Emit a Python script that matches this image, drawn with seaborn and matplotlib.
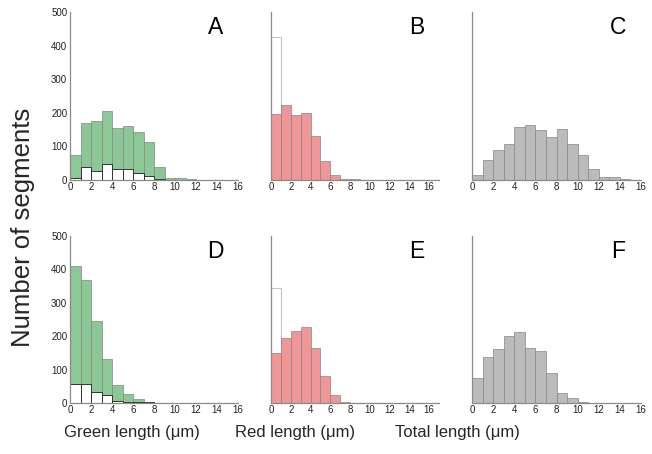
import numpy as np
import matplotlib
matplotlib.use("Agg")
import matplotlib.pyplot as plt
import seaborn as sns

sns.set_style("white")
plt.rcParams['font.family'] = ['Liberation Sans', 'DejaVu Sans']

bin_edges = list(range(0, 17))
bin_centers = [e + 0.5 for e in range(0, 16)]

# Panel A (green length, condition 1)
green_A = [74, 170, 176, 205, 155, 161, 142, 114, 38, 7, 7, 2, 0, 0, 0, 0]
green_A_white = [7, 38, 26, 48, 32, 32, 20, 12, 2, 0, 0, 0, 0, 0, 0, 0]
# Panel B (red length, condition 1)
red_B = [196, 222, 192, 199, 131, 58, 15, 3, 3, 0, 0, 0, 0, 0, 0, 0]
red_B_white = [425, 0, 0, 0, 0, 0, 0, 0, 0, 0, 0, 0, 0, 0, 0, 0]
# Panel C (total length, condition 1)
total_C = [16, 59, 89, 108, 158, 165, 149, 129, 151, 107, 73, 33, 9, 9, 2, 0]
# Panel D (green length, condition 2)
green_D = [410, 368, 245, 132, 55, 28, 12, 3, 0, 0, 0, 0, 0, 0, 0, 0]
green_D_white = [57, 56, 33, 24, 5, 4, 4, 2, 0, 0, 0, 0, 0, 0, 0, 0]
# Panel E (red length, condition 2)
red_E = [150, 195, 216, 228, 166, 82, 24, 2, 0, 0, 0, 0, 0, 0, 0, 0]
red_E_white = [343, 0, 0, 0, 0, 0, 0, 0, 0, 0, 0, 0, 0, 0, 0, 0]
# Panel F (total length, condition 2)
total_F = [74, 139, 162, 201, 213, 165, 156, 91, 31, 15, 2, 0, 0, 0, 0, 0]

panel_letters = ["A", "B", "C", "D", "E", "F"]
y_ticks = [0, 100, 200, 300, 400, 500]
x_ticks = [0, 2, 4, 6, 8, 10, 12, 14, 16]
x_labels = ["Green length (\u03bcm)", "Red length (\u03bcm)", "Total length (\u03bcm)"]
y_label = "Number of segments"

GREEN = "#8cc896"
RED = "#f09696"
GRAY = "#bbbbbb"
EDGE = "#858585"
SPINE = "#8a8a8a"

W, H = 652, 454
fig = plt.figure(figsize=(W / 100, H / 100), dpi=100)

col_left = [70, 271, 472]
col_width = [168, 168, 169]
col_xmax = [16, 17, 16]
row_bottom = [180, 403]
row_height = [168, 167]

panels = [
    [(green_A, GREEN, green_A_white, "over"), (red_B, RED, red_B_white, "under"), (total_C, GRAY, None, None)],
    [(green_D, GREEN, green_D_white, "over"), (red_E, RED, red_E_white, "under"), (total_F, GRAY, None, None)],
]

k = 0
for r in range(2):
    for c in range(3):
        vals, col, white, mode = panels[r][c]
        ax = fig.add_axes([col_left[c] / W, 1 - row_bottom[r] / H,
                           col_width[c] / W, row_height[r] / H])
        if white is not None and mode == "under":
            sns.histplot(x=bin_centers, weights=white, bins=bin_edges, color="white",
                         alpha=1, edgecolor="#c4c4c4", linewidth=0.8, ax=ax)
        sns.histplot(x=bin_centers, weights=vals, bins=bin_edges, color=col,
                     alpha=1, edgecolor=EDGE, linewidth=0.5, ax=ax)
        if white is not None and mode == "over":
            sns.histplot(x=bin_centers, weights=white, bins=bin_edges, color="white",
                         alpha=1, edgecolor="#333333", linewidth=0.7, ax=ax)
        ax.set_xlim(0, col_xmax[c])
        ax.set_ylim(0, 500)
        ax.set_xlabel("")
        ax.set_ylabel("")
        for s in ["top", "right"]:
            ax.spines[s].set_visible(False)
        for s in ["left", "bottom"]:
            ax.spines[s].set_color(SPINE)
            ax.spines[s].set_linewidth(0.9)
        ax.set_xticks(x_ticks)
        ax.set_xticks(list(range(1, 16, 2)), minor=True)
        ax.tick_params(axis="x", which="both", direction="in", length=3, width=0.7,
                       color=SPINE, labelsize=7, pad=1.5, labelcolor="#222222")
        if c == 0:
            ax.set_yticks(y_ticks)
            ax.tick_params(axis="y", direction="in", length=0, labelsize=7,
                           pad=2, labelcolor="#222222")
        else:
            ax.set_yticks([])
        ax.text(0.865, 0.91, panel_letters[k], transform=ax.transAxes, ha="center",
                va="center", fontsize=16.5, color="black")
        ax.patch.set_alpha(0)
        k += 1

fig.text(23 / W, 1 - 227 / H, y_label, rotation=90, ha="center", va="center", fontsize=18.5)
for xc, lab in zip([132, 295, 457], x_labels):
    fig.text(xc / W, 1 - 433 / H, lab, ha="center", va="center", fontsize=12)

fig.savefig("out.png", dpi=100)
